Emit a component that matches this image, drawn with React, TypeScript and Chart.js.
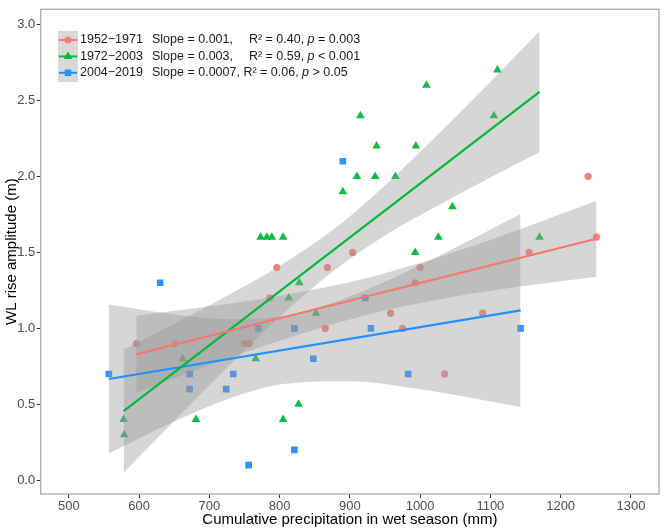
import { useEffect, useRef } from "react"
import { Chart, registerables } from "chart.js"

Chart.register(...registerables)

const FONT = "'Liberation Sans', Arial, Helvetica, sans-serif"
const LEGEND_SIZE = 12.5

// axis ticks
const xTicks = [500, 600, 700, 800, 900, 1000, 1100, 1200, 1300]
const yTicks = [0, 0.5, 1.0, 1.5, 2.0, 2.5, 3.0]

// legend text
const periods = ["1952−1971", "1972−2003", "2004−2019"]
const slopeLabels = ["Slope = 0.001,", "Slope = 0.003,", "Slope = 0.0007,"]
const r2Labels = ["R² = 0.40,", "R² = 0.59,", "R² = 0.06,"]
const pLabels = ["= 0.003", "< 0.001", "> 0.05"]

// 1952-1971 observations
const redX = [596, 651, 750, 757, 786, 796, 865, 868, 904, 958, 975, 993, 1000, 1035, 1089, 1155, 1239, 1251]
const redY = [0.9, 0.9, 0.9, 0.9, 1.2, 1.4, 1.0, 1.4, 1.5, 1.1, 1.0, 1.3, 1.4, 0.7, 1.1, 1.5, 2.0, 1.6]

// 1972-2003 observations
const greenX = [578, 579, 662, 681, 766, 773, 782, 789, 805, 805, 813, 827, 828, 852, 890, 910, 915, 936, 938, 965, 993, 994, 1009, 1026, 1046, 1105, 1110, 1170]
const greenY = [0.4, 0.3, 0.8, 0.4, 0.8, 1.6, 1.6, 1.6, 1.6, 0.4, 1.2, 0.5, 1.3, 1.1, 1.9, 2.0, 2.4, 2.0, 2.2, 2.0, 1.5, 2.2, 2.6, 1.6, 1.8, 2.4, 2.7, 1.6]

// 2004-2019 observations
const blueX = [557, 630, 672, 672, 724, 734, 756, 770, 821, 821, 848, 890, 922, 930, 983, 1143]
const blueY = [0.7, 1.3, 0.7, 0.6, 0.6, 0.7, 0.1, 1.0, 1.0, 0.2, 0.8, 2.1, 1.2, 1.0, 0.7, 1.0]

// fitted lines (ends)
const redLineX = [596, 1251]
const redLineY = [0.83, 1.59]
const greenLineX = [578, 1170]
const greenLineY = [0.455, 2.557]
const blueLineX = [557, 1143]
const blueLineY = [0.667, 1.118]

// confidence bands
const redBandX = [596, 700, 800, 926, 1050, 1150, 1251]
const redBandHi = [1.083, 1.145, 1.215, 1.334, 1.504, 1.666, 1.840]
const redBandLo = [0.577, 0.757, 0.919, 1.092, 1.210, 1.280, 1.340]

const greenBandX = [578, 650, 730, 800, 877, 950, 1030, 1100, 1170]
const greenBandHi = [0.860, 1.031, 1.227, 1.411, 1.652, 1.941, 2.297, 2.623, 2.955]
const greenBandLo = [0.050, 0.391, 0.764, 1.076, 1.380, 1.612, 1.821, 1.993, 2.159]

const blueBandX = [557, 650, 720, 805, 900, 1000, 1070, 1143]
const blueBandHi = [1.157, 1.091, 1.062, 1.082, 1.210, 1.417, 1.579, 1.753]
const blueBandLo = [0.177, 0.387, 0.524, 0.634, 0.652, 0.599, 0.545, 0.483]

const RED = "#F8766D"
const GREEN = "#00BA38"
const BLUE = "#1E90FF"
const BAND = "rgba(153, 153, 153, 0.4)"

const pts = (xs: number[], ys: number[]) => xs.map((x, i) => ({ x, y: ys[i] }))

const band = (xs: number[], hi: number[], lo: number[]) => [
  {
    type: "line" as const,
    data: pts(xs, hi),
    borderWidth: 0,
    pointRadius: 0,
    fill: false,
    cubicInterpolationMode: "monotone" as const,
    order: 1,
  },
  {
    type: "line" as const,
    data: pts(xs, lo),
    borderWidth: 0,
    pointRadius: 0,
    fill: "-1",
    backgroundColor: BAND,
    cubicInterpolationMode: "monotone" as const,
    order: 1,
  },
]

const line = (xs: number[], ys: number[], color: string) => ({
  type: "line" as const,
  data: pts(xs, ys),
  borderColor: color,
  borderWidth: 2.2,
  pointRadius: 0,
  fill: false,
  order: 0,
})

const markerColors = ["rgba(248, 118, 109, 0.9)", "rgba(0, 186, 56, 0.95)", "rgba(30, 144, 255, 0.95)"]
const lineColors = [RED, GREEN, BLUE]

function drawMarker(ctx: CanvasRenderingContext2D, kind: number, cx: number, cy: number) {
  ctx.fillStyle = markerColors[kind]
  ctx.beginPath()
  if (kind === 0) {
    ctx.arc(cx, cy, 3.6, 0, Math.PI * 2)
  } else if (kind === 1) {
    const r = 5
    ctx.moveTo(cx, cy - r)
    ctx.lineTo(cx + r * 0.866, cy + r * 0.5)
    ctx.lineTo(cx - r * 0.866, cy + r * 0.5)
    ctx.closePath()
  } else {
    ctx.rect(cx - 3.3, cy - 3.3, 6.6, 6.6)
  }
  ctx.fill()
}

const framePlugin = {
  id: "frameAndLegend",
  afterDatasetsDraw(chart: Chart) {
    const { ctx, chartArea: a } = chart
    ctx.save()
    ctx.strokeStyle = "#ababab"
    ctx.lineWidth = 1.3
    ctx.strokeRect(a.left, a.top, a.right - a.left, a.bottom - a.top)
    ctx.restore()
  },
  afterDraw(chart: Chart) {
    const ctx = chart.ctx
    const normal = `${LEGEND_SIZE}px ${FONT}`
    const italic = `italic ${LEGEND_SIZE}px ${FONT}`
    ctx.save()
    ctx.fillStyle = "#d9d9d9"
    ctx.fillRect(58, 31, 20, 51)
    ctx.font = normal
    // the longest slope text sets where R² starts; shorter rows sit a bit further right
    const base = 152 + ctx.measureText(slopeLabels[2] + " ").width
    for (let i = 0; i < 3; i++) {
      const y = 40 + i * 16.4
      ctx.strokeStyle = lineColors[i]
      ctx.lineWidth = 2
      ctx.beginPath()
      ctx.moveTo(59, y)
      ctx.lineTo(77, y)
      ctx.stroke()
      drawMarker(ctx, i, 68, y)

      ctx.fillStyle = "#1a1a1a"
      ctx.textBaseline = "middle"
      ctx.textAlign = "left"
      ctx.font = normal
      ctx.fillText(periods[i], 80, y)
      ctx.fillText(slopeLabels[i], 152, y)
      let x = i === 2 ? base : base + 5.5
      ctx.fillText(r2Labels[i] + " ", x, y)
      x += ctx.measureText(r2Labels[i] + " ").width
      ctx.font = italic
      ctx.fillText("p", x, y)
      x += ctx.measureText("p").width
      ctx.font = normal
      ctx.fillText(" " + pLabels[i], x, y)
    }
    ctx.restore()
  },
}

export default function App() {
  const chartRef = useRef<HTMLCanvasElement>(null)
  const chartInstance = useRef<Chart | null>(null)

  useEffect(() => {
    if (!chartRef.current) return
    if (chartInstance.current) chartInstance.current.destroy()
    const ctx = chartRef.current.getContext("2d")
    if (!ctx) return

    chartInstance.current = new Chart(ctx, {
      type: "scatter",
      data: {
        datasets: [
          line(redLineX, redLineY, RED),
          line(greenLineX, greenLineY, GREEN),
          line(blueLineX, blueLineY, BLUE),
          ...band(redBandX, redBandHi, redBandLo),
          ...band(greenBandX, greenBandHi, greenBandLo),
          ...band(blueBandX, blueBandHi, blueBandLo),
          {
            label: "1952−1971",
            data: pts(redX, redY),
            pointStyle: "circle",
            pointRadius: 3.6,
            backgroundColor: markerColors[0],
            borderWidth: 0,
            order: 2,
          },
          {
            label: "1972−2003",
            data: pts(greenX, greenY),
            pointStyle: "triangle",
            pointRadius: 5,
            backgroundColor: markerColors[1],
            borderWidth: 0,
            order: 2,
          },
          {
            label: "2004−2019",
            data: pts(blueX, blueY),
            pointStyle: "rect",
            pointRadius: 4.7,
            backgroundColor: markerColors[2],
            borderWidth: 0,
            order: 2,
          },
        ] as any,
      },
      options: {
        animation: false,
        responsive: true,
        maintainAspectRatio: false,
        events: [],
        layout: { padding: { top: 3, right: 2, left: 0, bottom: 0 } },
        plugins: {
          legend: { display: false },
          tooltip: { enabled: false },
        },
        scales: {
          x: {
            type: "linear",
            min: 460,
            max: 1340,
            afterBuildTicks: (axis: any) => {
              axis.ticks = xTicks.map((value) => ({ value }))
            },
            afterFit: (axis: any) => {
              axis.height = 36
            },
            grid: { drawOnChartArea: false, drawTicks: true, tickLength: 4, color: "#333333", lineWidth: 1 },
            border: { display: false },
            ticks: {
              color: "#4d4d4d",
              padding: 1,
              maxRotation: 0,
              font: { family: FONT, size: 13 },
              callback: (v: any) => String(v),
            },
            title: {
              display: true,
              text: "Cumulative precipitation in wet season (mm)",
              color: "#000000",
              font: { family: FONT, size: 15 },
              padding: { top: 0, bottom: 1 },
            },
          },
          y: {
            type: "linear",
            min: -0.09,
            max: 3.1,
            afterBuildTicks: (axis: any) => {
              axis.ticks = yTicks.map((value) => ({ value }))
            },
            afterFit: (axis: any) => {
              axis.width = 40.7
            },
            grid: { drawOnChartArea: false, drawTicks: true, tickLength: 4, color: "#333333", lineWidth: 1 },
            border: { display: false },
            ticks: {
              color: "#4d4d4d",
              padding: 1.5,
              font: { family: FONT, size: 13 },
              callback: (v: any) => Number(v).toFixed(1),
            },
            title: {
              display: true,
              text: "WL rise amplitude (m)",
              color: "#000000",
              font: { family: FONT, size: 15 },
              padding: { top: 3, bottom: 0 },
            },
          },
        },
      },
      plugins: [framePlugin],
    })

    return () => {
      if (chartInstance.current) {
        chartInstance.current.destroy()
        chartInstance.current = null
      }
    }
  }, [])

  return (
    <div style={{ position: "fixed", left: 0, top: 0, width: 664, height: 530, background: "#ffffff" }}>
      <canvas ref={chartRef} />
    </div>
  )
}
